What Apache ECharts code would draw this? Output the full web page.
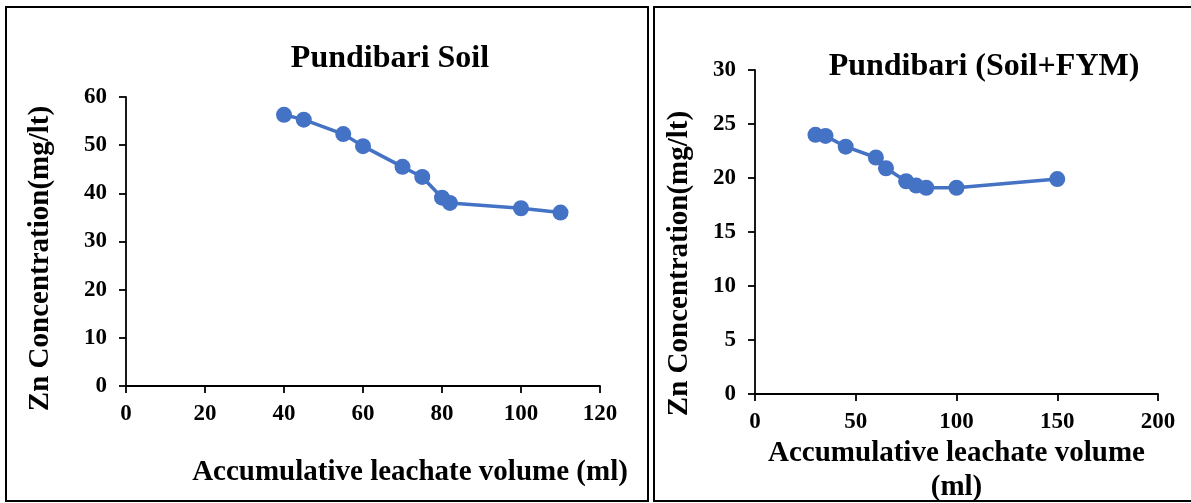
<!DOCTYPE html>
<html>
<head>
<meta charset="utf-8">
<script src="https://cdn.jsdelivr.net/npm/echarts@6/dist/echarts.min.js"></script>
<style>
  html, body { margin: 0; padding: 0; background: #fff; }
  #chart { width: 1191px; height: 503px; }
</style>
</head>
<body>
<div id="chart"></div>
<script>
// Pundibari Soil
const soilVolume = [40, 45, 55, 60, 70, 75, 80, 82, 100, 110];
const soilZn = [56.3, 55.3, 52.3, 49.8, 45.5, 43.4, 39.1, 38.0, 36.9, 36.0];

// Pundibari (Soil+FYM)
const fymVolume = [30, 35, 45, 60, 65, 75, 80, 85, 100, 150];
const fymZn = [24.0, 23.9, 22.9, 21.9, 20.9, 19.7, 19.3, 19.1, 19.1, 19.9];

const blue = "#4472C4";
const font = "'Liberation Serif', 'Times New Roman', serif";

const myChart = echarts.init(document.getElementById("chart"));

// shared axis look
const axisBase = {
  axisLine: { show: true, onZero: false, lineStyle: { color: "#000", width: 1.8 } },
  axisTick: { show: true, inside: false, length: 7, lineStyle: { color: "#000", width: 1.8 } },
  axisLabel: { color: "#000", fontFamily: font, fontWeight: "bold", fontSize: 23 },
  splitLine: { show: false },
  nameLocation: "middle",
  nameMoveOverlap: false,
  nameTextStyle: { color: "#000", fontFamily: font, fontWeight: "bold", fontSize: 29 },
};

const option = {
  animation: false,
  backgroundColor: "#fff",
  title: [
    {
      text: "Pundibari Soil",
      left: 385, top: 38, textAlign: "center",
      textStyle: { fontFamily: font, fontWeight: "bold", fontSize: 32, color: "#000" },
    },
    {
      text: "Pundibari (Soil+FYM)",
      left: 979, top: 46, textAlign: "center",
      textStyle: { fontFamily: font, fontWeight: "bold", fontSize: 32, color: "#000" },
    },
  ],
  graphic: [
    { type: "rect", shape: { x: 6, y: 7, width: 642, height: 494 }, style: { fill: "none", stroke: "#000", lineWidth: 2 } },
    { type: "rect", shape: { x: 654, y: 7, width: 540, height: 494 }, style: { fill: "none", stroke: "#000", lineWidth: 2 } },
  ],
  // fixed plot areas, no auto shrinking for labels
  grid: [
    { left: 126, top: 97, width: 474, height: 289, outerBoundsMode: "none", containLabel: false },
    { left: 755, top: 70, width: 403, height: 324, outerBoundsMode: "none", containLabel: false },
  ],
  xAxis: [
    _x({ gridIndex: 0, min: 0, max: 120, interval: 20, name: "Accumulative leachate volume (ml)", nameGap: 70, pad: [0, 0, 0, 94] }),
    _x({ gridIndex: 1, min: 0, max: 200, interval: 50, name: "Accumulative leachate volume\n(ml)", nameGap: 43, pad: [0, 0, 0, 0] }),
  ],
  yAxis: [
    _y({ gridIndex: 0, min: 0, max: 60, interval: 10, nameGap: 71, pad: [0, 34, 0, 0] }),
    _y({ gridIndex: 1, min: 0, max: 30, interval: 5, nameGap: 61, pad: [0, 63, 0, 0] }),
  ],
  series: [
    {
      type: "line", xAxisIndex: 0, yAxisIndex: 0,
      data: soilVolume.map((v, i) => [v, soilZn[i]]),
      symbol: "circle", symbolSize: 16,
      lineStyle: { color: blue, width: 3.5 },
      itemStyle: { color: blue },
    },
    {
      type: "line", xAxisIndex: 1, yAxisIndex: 1,
      data: fymVolume.map((v, i) => [v, fymZn[i]]),
      symbol: "circle", symbolSize: 16,
      lineStyle: { color: blue, width: 3.5 },
      itemStyle: { color: blue },
    },
  ],
};

function _x(o) {
  return Object.assign({}, axisBase, {
    type: "value", gridIndex: o.gridIndex, min: o.min, max: o.max, interval: o.interval,
    name: o.name, nameGap: o.nameGap,
    axisLabel: Object.assign({}, axisBase.axisLabel, { margin: 17 }),
    nameTextStyle: Object.assign({}, axisBase.nameTextStyle, { padding: o.pad, lineHeight: 34 }),
  });
}

function _y(o) {
  return Object.assign({}, axisBase, {
    type: "value", gridIndex: o.gridIndex, min: o.min, max: o.max, interval: o.interval,
    name: "Zn Concentration(mg/lt)", nameGap: o.nameGap,
    axisLabel: Object.assign({}, axisBase.axisLabel, { margin: 19 }),
    nameTextStyle: Object.assign({}, axisBase.nameTextStyle, { padding: o.pad }),
  });
}

myChart.setOption(option);
</script>
</body>
</html>
